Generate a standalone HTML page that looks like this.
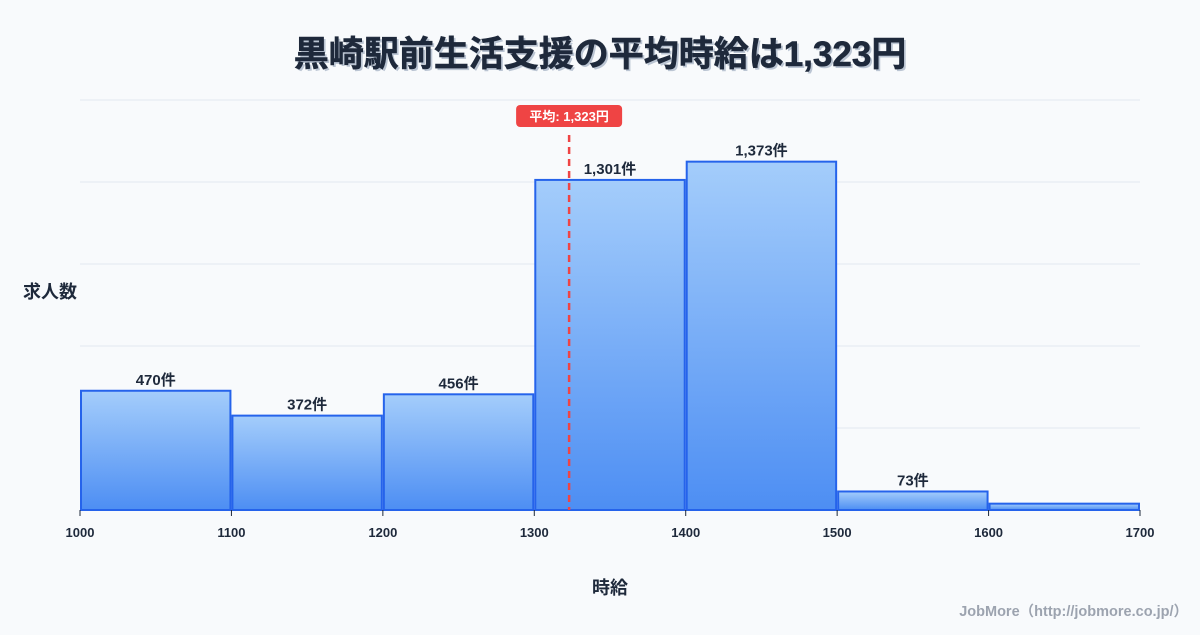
<!DOCTYPE html>
<html><head><meta charset="utf-8">
<style>
body{margin:0;background:#f8fafc;font-family:"Liberation Sans","Noto Sans CJK JP",sans-serif;}
svg text{font-family:"Liberation Sans","Noto Sans CJK JP",sans-serif;}
</style></head>
<body>
<svg id="chart" width="1200" height="630" viewBox="0 0 1200 630">
<defs>
<linearGradient id="g" x1="0" y1="0" x2="0" y2="1">
<stop offset="0" stop-color="#a4cdfb"/><stop offset="1" stop-color="#4d8ef3"/>
</linearGradient>
</defs>
<rect width="1200" height="630" fill="#f8fafc"/>
<text x="602" y="68" text-anchor="middle" font-size="35" font-weight="bold" fill="#94a3b8" opacity="0.6">黒崎駅前生活支援の平均時給は1,323円</text>
<text x="600" y="66" text-anchor="middle" font-size="35" font-weight="bold" fill="#1e293b" stroke="#1e293b" stroke-width="0.6">黒崎駅前生活支援の平均時給は1,323円</text>
<g id="grid"></g>
<g id="bars"></g>
<g id="xt"></g>
<text x="50" y="298" text-anchor="middle" font-size="18" font-weight="bold" fill="#1e293b">求人数</text>
<text x="610" y="594" text-anchor="middle" font-size="18" font-weight="bold" fill="#1e293b">時給</text>
<text x="1188" y="616" text-anchor="end" font-size="14.5" font-weight="bold" fill="#9ca3af">JobMore（http://jobmore.co.jp/）</text>
</svg>
<script>
const binStarts=[1000,1100,1200,1300,1400,1500,1600];
const counts=[470,372,456,1301,1373,73,25];
const labels=["470件","372件","456件","1,301件","1,373件","73件",""];
const xTicks=[1000,1100,1200,1300,1400,1500,1600,1700];
const avgValue=1323;
const avgLabel="平均: 1,323円";
const NS="http://www.w3.org/2000/svg";
const X0=80,X1=1140,Y0=510,Y1=100,xmin=1000,xmax=1700,ymax=1616;
const xs=v=>X0+(v-xmin)/(xmax-xmin)*(X1-X0);
const ys=v=>Y0-v/ymax*(Y0-Y1);
function mk(t,a,p){const e=document.createElementNS(NS,t);for(const k in a)e.setAttribute(k,a[k]);p.appendChild(e);return e;}
const grid=document.getElementById('grid');
for(let i=0;i<=5;i++){const y=Y0-i*(Y0-Y1)/5;
const l=mk('line',{x1:X0,x2:X1,y1:y,y2:y,stroke:'#e2e8f0','stroke-width':1},grid);

}
const bars=document.getElementById('bars');
binStarts.forEach((b,i)=>{
const x=xs(b)+1,w=xs(b+100)-xs(b)-2,y=ys(counts[i]);
const r=mk('rect',{x:x,y:y,width:w,height:Y0-y,fill:'url(#g)',stroke:'#2563eb','stroke-width':2},bars);


if(labels[i]){const t=mk('text',{x:x+w/2,y:y-6,'text-anchor':'middle','font-size':15,'font-weight':'bold',fill:'#1e293b'},bars);t.textContent=labels[i];

}
});
const xt=document.getElementById('xt');
const ax=mk('line',{x1:X0,x2:X1,y1:Y0,y2:Y0,stroke:'#2563eb','stroke-width':1},xt);


xTicks.forEach(v=>{const x=xs(v);
const tk=mk('line',{x1:x,x2:x,y1:Y0,y2:Y0+6,stroke:'#1e293b'},xt);


const t=mk('text',{x:x,y:537,'text-anchor':'middle','font-size':13,'font-weight':'bold',fill:'#1e293b'},xt);t.textContent=v;

});
const ax2=xs(avgValue);
const al=mk('line',{x1:ax2,x2:ax2,y1:135,y2:Y0,stroke:'#ef4444','stroke-width':2.5,'stroke-dasharray':'7,5'},xt);


const bx=mk('rect',{x:ax2-53,y:105,width:106,height:22,rx:4,fill:'#ef4444'},xt);


const at=mk('text',{x:ax2,y:121,'text-anchor':'middle','font-size':13,'font-weight':'bold',fill:'#fff'},xt);at.textContent=avgLabel;


</script>
</body></html>
